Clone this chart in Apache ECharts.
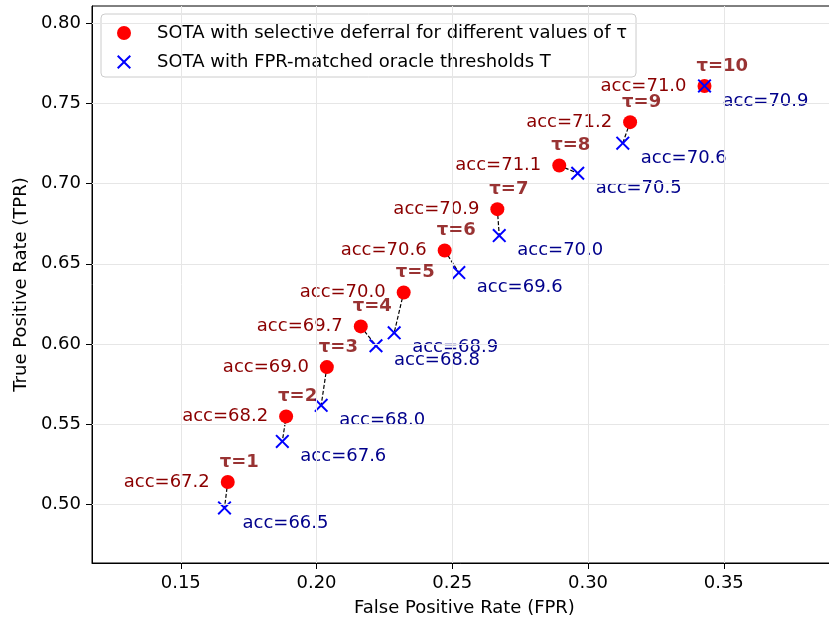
<!DOCTYPE html>
<html>
<head>
<meta charset="utf-8">
<script src="https://cdn.jsdelivr.net/npm/echarts@6/dist/echarts.min.js"></script>
<style>
  html, body { margin: 0; padding: 0; background: #fff; overflow: hidden; }
  #chart { width: 829px; height: 617px; }
</style>
</head>
<body>
<div id="chart"></div>
<script>
// values
const taus = [1, 2, 3, 4, 5, 6, 7, 8, 9, 10];
const deferFpr = [0.1673, 0.1888, 0.2038, 0.2163, 0.2321, 0.2472, 0.2666, 0.2894, 0.3155, 0.3429];
const deferTpr = [0.5138, 0.5547, 0.5855, 0.6109, 0.6321, 0.6583, 0.6841, 0.7113, 0.7384, 0.7610];
const deferAcc = [67.2, 68.2, 69.0, 69.7, 70.0, 70.6, 70.9, 71.1, 71.2, 71.0];
const oracleFpr = [0.1661, 0.1874, 0.2017, 0.2219, 0.2286, 0.2524, 0.2673, 0.2962, 0.3128, 0.3429];
const oracleTpr = [0.4976, 0.5391, 0.5616, 0.5988, 0.6069, 0.6445, 0.6676, 0.7065, 0.7253, 0.7610];
const oracleAcc = [66.5, 67.6, 68.0, 68.8, 68.9, 69.6, 70.0, 70.5, 70.6, 70.9];
const xTicks = [0.15, 0.20, 0.25, 0.30, 0.35];
const yTicks = [0.50, 0.55, 0.60, 0.65, 0.70, 0.75, 0.80];

const deferName = 'SOTA with selective deferral for different values of τ';
const oracleName = 'SOTA with FPR-matched oracle thresholds T';
const font = 'DejaVu Sans';
const crossPath = 'path://M0,10L10,0L50,40L90,0L100,10L60,50L100,90L90,100L50,60L10,100L0,90L40,50Z';

let chart = echarts.init(document.getElementById('chart'));

let option = {
  animation: false,
  textStyle: { fontFamily: font },
  grid: {
    left: 92, top: 6, width: 745, height: 557,
    outerBoundsMode: 'none',
    show: true, borderColor: '#000', borderWidth: 1
  },
  legend: {
    data: [deferName, oracleName],
    orient: 'vertical',
    left: 101, top: 14,
    itemWidth: 18, itemHeight: 14, itemGap: 11,
    padding: [10, 9, 6, 16],
    backgroundColor: 'rgba(255,255,255,0.8)',
    borderColor: '#cccccc', borderWidth: 1, borderRadius: 4,
    selectedMode: false,
    textStyle: { fontFamily: font, fontSize: 18, color: '#000', padding: [0, 0, 0, 19] }
  },
  xAxis: {
    type: 'value',
    min: 0.1173, max: 0.3917,
    name: 'False Positive Rate (FPR)',
    nameLocation: 'middle', nameGap: 36,
    nameTextStyle: { fontFamily: font, fontSize: 18, color: '#000' },
    axisLine: { show: true, onZero: false, lineStyle: { color: '#000', width: 1 } },
    axisTick: { show: true, customValues: xTicks, length: 6, lineStyle: { color: '#000' } },
    axisLabel: {
      customValues: xTicks, margin: 11,
      fontFamily: font, fontSize: 18, color: '#000',
      formatter: v => v.toFixed(2)
    },
    splitLine: { show: false }
  },
  yAxis: {
    type: 'value',
    min: 0.4632, max: 0.8109,
    name: 'True Positive Rate (TPR)',
    nameLocation: 'middle', nameGap: 60,
    nameTextStyle: { fontFamily: font, fontSize: 18, color: '#000' },
    axisLine: { show: true, onZero: false, lineStyle: { color: '#000', width: 1 } },
    axisTick: { show: true, customValues: yTicks, length: 6, lineStyle: { color: '#000' } },
    axisLabel: {
      customValues: yTicks, margin: 11,
      fontFamily: font, fontSize: 18, color: '#000',
      formatter: v => v.toFixed(2)
    },
    splitLine: { show: false }
  },
  series: [
    {
      // grid lines
      type: 'scatter',
      name: 'grid',
      data: [],
      z: 1,
      silent: true,
      markLine: {
        silent: true,
        symbol: 'none',
        label: { show: false },
        lineStyle: { color: '#e6e6e6', type: 'solid', width: 1 },
        data: xTicks.map(v => ({ xAxis: v })).concat(yTicks.map(v => ({ yAxis: v })))
      }
    },
    {
      type: 'lines',
      coordinateSystem: 'cartesian2d',
      z: 2,
      silent: true,
      lineStyle: { color: '#000', width: 1.2, type: [4, 2], opacity: 1 },
      data: taus.map((t, i) => ({ coords: [[deferFpr[i], deferTpr[i]], [oracleFpr[i], oracleTpr[i]]] }))
    },
    {
      type: 'scatter',
      name: deferName,
      z: 3,
      symbol: 'circle',
      symbolSize: 14,
      itemStyle: { color: '#ff0000', opacity: 1 },
      data: deferFpr.map((x, i) => [x, deferTpr[i]]),
      label: {
        show: true, position: 'left', distance: 11,
        fontFamily: font, fontSize: 18, color: '#8b0000',
        formatter: p => 'acc=' + deferAcc[p.dataIndex].toFixed(1)
      }
    },
    {
      type: 'scatter',
      name: oracleName,
      z: 4,
      symbol: crossPath,
      symbolSize: 14,
      itemStyle: { color: '#0000ff', opacity: 1 },
      data: oracleFpr.map((x, i) => [x, oracleTpr[i]]),
      label: {
        show: true, position: 'right', distance: 11, offset: [0, 15],
        fontFamily: font, fontSize: 18, color: '#00008b',
        formatter: p => 'acc=' + oracleAcc[p.dataIndex].toFixed(1)
      }
    },
    {
      // tau labels above the red points
      type: 'scatter',
      name: 'tau',
      z: 5,
      silent: true,
      symbolSize: 1,
      itemStyle: { color: 'rgba(0,0,0,0)' },
      data: deferFpr.map((x, i) => [x, deferTpr[i]]),
      label: {
        show: true, position: 'inside', align: 'left', verticalAlign: 'middle',
        offset: [-8, -20],
        fontFamily: font, fontSize: 18, fontWeight: 'bold', color: '#800000',
        formatter: p => 'τ=' + taus[p.dataIndex]
      }
    }
  ]
};

chart.setOption(option);

window.addEventListener('resize', () => {
  chart.resize();
});
</script>
</body>
</html>
